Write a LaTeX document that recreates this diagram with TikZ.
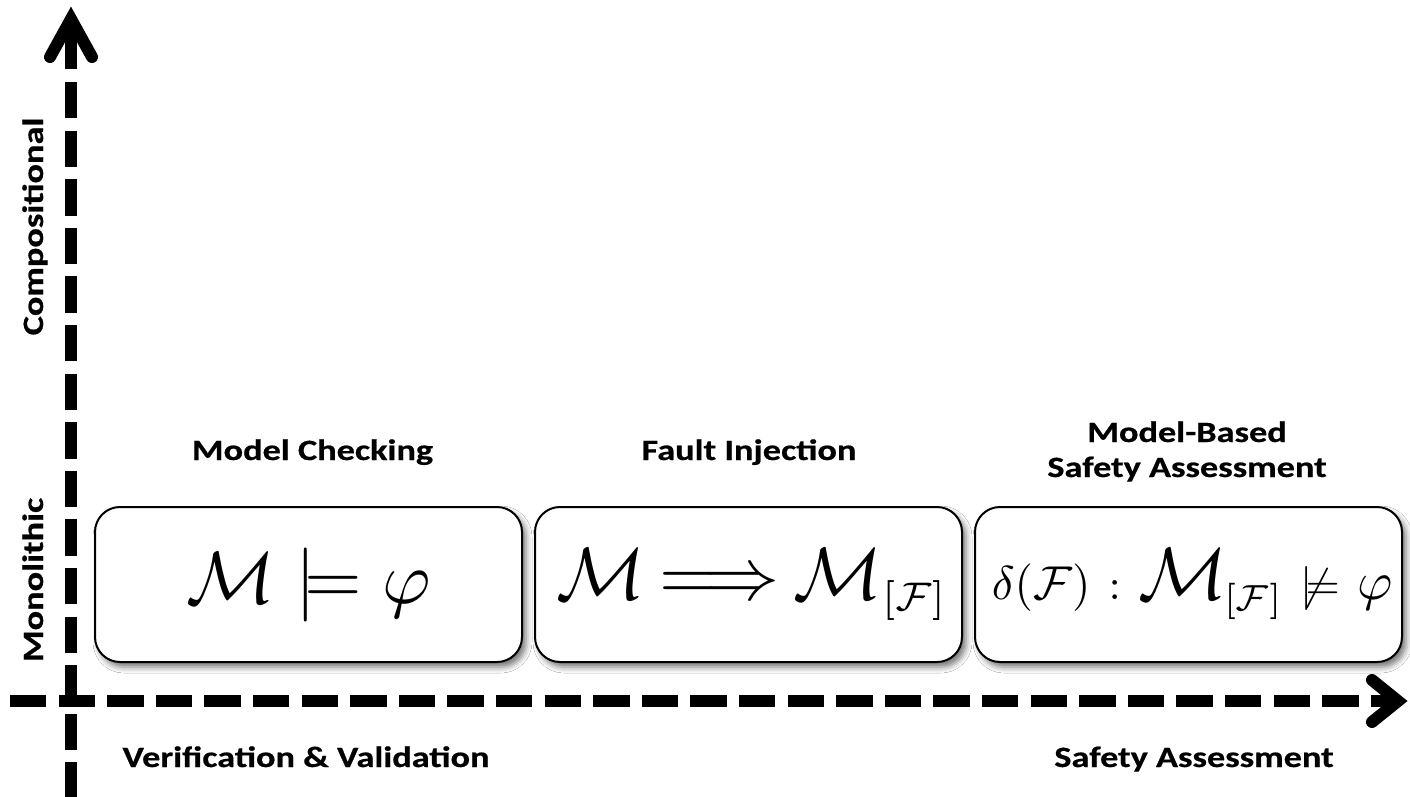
\documentclass[tikz,border=0pt]{standalone}
\usepackage[no-math]{fontspec}
\setmainfont{Carlito}[BoldFeatures={FakeBold=0.5}]
\usepackage{graphicx}
\usetikzlibrary{shadows.blur}
\tikzset{
  axisline/.style={line width=12pt, black},
  axisdash/.style={axisline, dash pattern=on 36.3pt off 12.3pt},
  chevron/.style={line width=12pt, line cap=round, line join=miter, black},
  mathbox/.style={draw, line width=2pt, rounded corners=25pt, fill=white,
    minimum width=427pt, minimum height=155pt, inner sep=0pt,
    blur shadow={shadow xshift=4pt, shadow yshift=-5pt, shadow blur radius=6pt, shadow opacity=55}},
  lbl/.style={font=\bfseries\fontsize{29.5}{35}\selectfont, inner sep=0pt},
}
\newcommand\widetxt[1]{\scalebox{1.23}[1]{#1}}
\newcommand\subF[1]{\scalebox{#1}{$\scriptstyle[\mathcal{F}]$}}
\begin{document}
\begin{tikzpicture}[x=1pt,y=-1pt]
\useasboundingbox (0,0) rectangle (1410,797);
\fill[white] (0,0) rectangle (1410,797);

% vertical axis
\coordinate (vbot) at (71,800);
\coordinate (vdash) at (71,82);
\coordinate (vshaft) at (71,69);
\coordinate (vtip) at (71,19);
\coordinate (vl) at (50,57);
\coordinate (vr) at (92,57);
\draw[axisdash] (vdash) -- (vbot);
\draw[axisline] (vshaft) -- (vtip);
\draw[chevron] (vl) -- (vtip) -- (vr);

% horizontal axis
\coordinate (hstart) at (10,701);
\coordinate (hend) at (1362,701);
\coordinate (hshaft) at (1371,701);
\coordinate (htip) at (1398,701);
\coordinate (hu) at (1372,680);
\coordinate (hd) at (1372,722);
\draw[axisdash] (hstart) -- (hend);
\draw[axisline] (hshaft) -- (htip);
\draw[chevron] (hu) -- (htip) -- (hd);

% boxes
\node[mathbox] (mc) at (308.5,584.5) {\scalebox{7.4}{$\mathcal{M} \models \varphi$}};
\node[mathbox] (fi) at (748.5,584.5) {\hspace{8pt}\scalebox{7.4}{$\mathcal{M}\mskip-1.5mu \Longrightarrow\mskip-1.5mu \mathcal{M}_{\subF{0.77}}$}};
\node[mathbox] (mbsa) at (1188.5,584.5) {\hspace{8pt}\scalebox{4.75}{$\delta(\mathcal{F})$}\hspace{18pt}\scalebox{4.4}{$:$}\hspace{18pt}\scalebox{7.4}{$\mathcal{M}_{\mkern-1mu\subF{0.7}}$}\hspace{16pt}\scalebox{4.4}{$\not\models$}\hspace{18pt}\scalebox{5.4}{$\varphi$}};

% labels
\node[lbl, anchor=base] (mct) at (312.5,460) {\widetxt{Model Checking}};
\node[lbl, anchor=base] (fit) at (749,460) {\widetxt{Fault Injection}};
\node[lbl, anchor=base] (mb1) at (1187,442) {\widetxt{Model-Based}};
\node[lbl, anchor=base] (mb2) at (1187,477) {\widetxt{Safety Assessment}};
\node[lbl, anchor=base] (vv) at (306,767) {\widetxt{Verification \& Validation}};
\node[lbl, anchor=base] (sa) at (1194,767) {\widetxt{Safety Assessment}};
\node[lbl, anchor=base, rotate=90] (comp) at (43,226.5) {\widetxt{Compositional}};
\node[lbl, anchor=base, rotate=90] (mono) at (43,580) {\widetxt{Monolithic}};
\end{tikzpicture}
\end{document}
